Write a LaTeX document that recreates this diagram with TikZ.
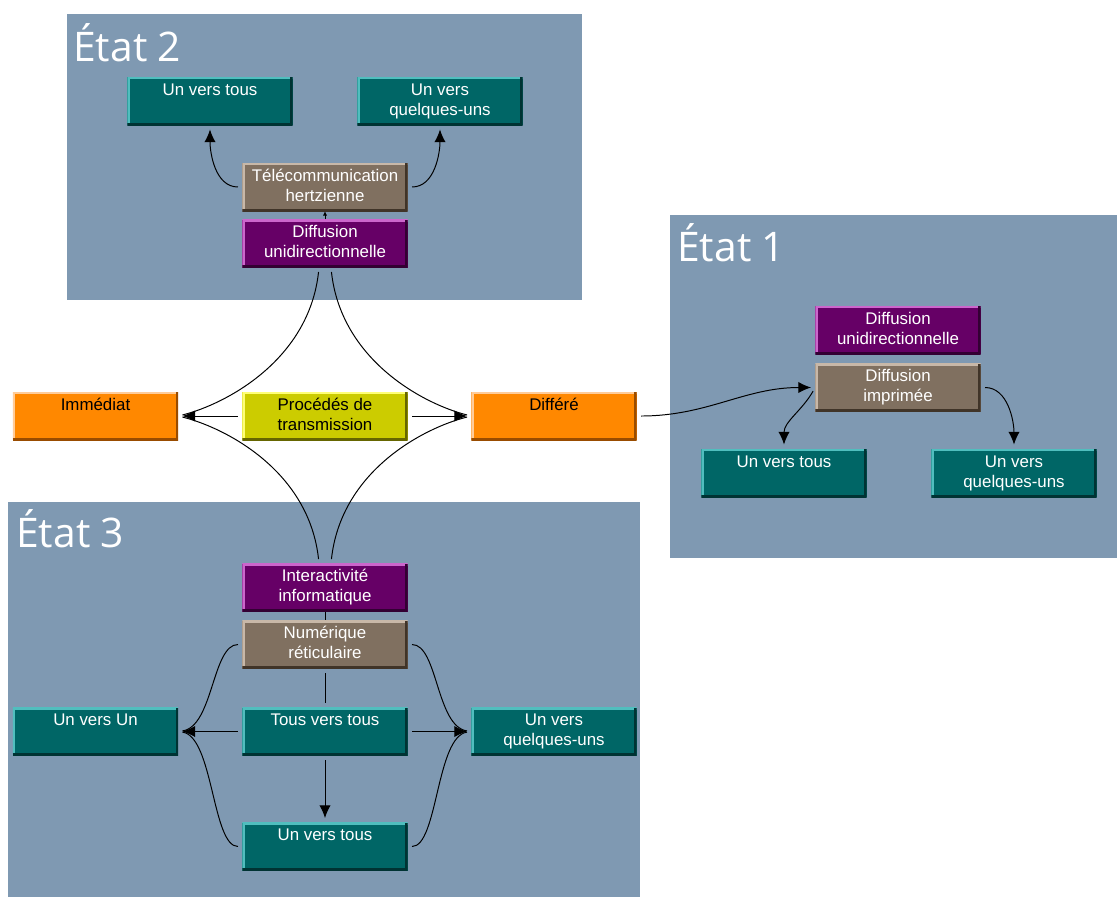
\documentclass[tikz,border=0pt]{standalone}
\usepackage{fontspec}
\setmainfont{Liberation Sans}
\newfontfamily\titlefont{Open Sans}
\usetikzlibrary{arrows.meta}

\definecolor{panelblue}{RGB}{127,153,178}
\definecolor{tealfill}{RGB}{0,102,102}
\definecolor{teallight}{RGB}{80,190,190}
\definecolor{tealdark}{RGB}{0,51,51}
\definecolor{purplefill}{RGB}{102,0,102}
\definecolor{purplelight}{RGB}{204,102,204}
\definecolor{purpledark}{RGB}{51,0,51}
\definecolor{brownfill}{RGB}{128,112,96}
\definecolor{brownlight}{RGB}{200,184,168}
\definecolor{browndark}{RGB}{64,52,40}
\definecolor{orangefill}{RGB}{255,136,0}
\definecolor{orangelight}{RGB}{255,204,153}
\definecolor{orangedark}{RGB}{153,76,0}
\definecolor{yellowfill}{RGB}{204,204,0}
\definecolor{yellowlight}{RGB}{255,255,120}
\definecolor{yellowdark}{RGB}{102,102,0}

\newcommand{\boxtext}[1]{\parbox[c][1.2cm][t]{4.1cm}{\centering\vspace*{3pt}\strut#1}}

\tikzset{
  box/.style n args={3}{rectangle, fill=#1, minimum width=4.125cm, minimum height=1.2cm,
    inner sep=0pt, font=\fontsize{12}{14.2}\selectfont,
    path picture={
      \draw[#2, line width=3pt] (path picture bounding box.south west) |- (path picture bounding box.north east);
      \draw[#3, line width=3pt] (path picture bounding box.south west) -| (path picture bounding box.north east);}},
  tealbox/.style={box={tealfill}{teallight}{tealdark}, text=white},
  purplebox/.style={box={purplefill}{purplelight}{purpledark}, text=white},
  brownbox/.style={box={brownfill}{brownlight}{browndark}, text=white},
  orangebox/.style={box={orangefill}{orangelight}{orangedark}, text=black},
  yellowbox/.style={box={yellowfill}{yellowlight}{yellowdark}, text=black},
  link/.style={line width=.7pt, shorten >=3pt, shorten <=3pt},
  titre/.style={anchor=base west, inner sep=0pt, text=white, font=\titlefont\fontsize{29}{34}\selectfont}
}

\begin{document}
\begin{tikzpicture}[x=0.025cm, y=-0.025cm, >={Latex[length=9pt,width=8pt]}]

  \fill[white] (0,0) rectangle (1117,897);
  \useasboundingbox (0,0) rectangle (1117,897);

  % panels
  \fill[panelblue] (67,14) rectangle (582,300);
  \fill[panelblue] (670,215) rectangle (1117,558);
  \fill[panelblue] (8,502) rectangle (640,897);

  \node[titre] (t2) at (73,61) {État 2};
  \node[titre] (t1) at (677,261) {État 1};
  \node[titre] (t3) at (16,547) {État 3};

  % Etat 2
  \node[tealbox] (uvt2) at (210,101) {\boxtext{Un vers tous}};
  \node[tealbox] (uvq2) at (440,101) {\boxtext{Un vers\\quelques-uns}};
  \node[brownbox] (tel) at (325,187) {\boxtext{Télécommunication\\hertzienne}};
  \node[purplebox] (diff2) at (325,243.5) {\boxtext{Diffusion\\unidirectionnelle}};

  % centre
  \node[orangebox] (imm) at (95.5,416) {\boxtext{Immédiat}};
  \node[yellowbox] (proc) at (325,416) {\boxtext{Procédés de\\transmission}};
  \node[orangebox] (diff) at (554,416) {\boxtext{Différé}};

  % Etat 1
  \node[purplebox] (diff1) at (898,330) {\boxtext{Diffusion\\unidirectionnelle}};
  \node[brownbox] (imp) at (898,387.5) {\boxtext{Diffusion\\imprimée}};
  \node[tealbox] (uvt1) at (784,473) {\boxtext{Un vers tous}};
  \node[tealbox] (uvq1) at (1014,473) {\boxtext{Un vers\\quelques-uns}};

  % Etat 3
  \node[purplebox] (inter) at (325,587.5) {\boxtext{Interactivité\\informatique}};
  \node[brownbox] (num) at (325,644.5) {\boxtext{Numérique\\réticulaire}};
  \node[tealbox] (uvu) at (95.5,731.5) {\boxtext{Un vers Un}};
  \node[tealbox] (tvt) at (325,731.5) {\boxtext{Tous vers tous}};
  \node[tealbox] (uvq3) at (554,731.5) {\boxtext{Un vers\\quelques-uns}};
  \node[tealbox] (uvt3) at (325,846.5) {\boxtext{Un vers tous}};

  % links
  \draw[link,->] (tel.west) to[out=180,in=-90] (uvt2.south);
  \draw[link,->] (tel.east) to[out=0,in=-90] (uvq2.south);
  \draw[line width=.7pt,->,>={Latex[length=3pt,width=3pt]}] (diff2) -- (tel);

  \draw[link,->] (proc.west) -- (imm.east);
  \draw[link,->] (proc.east) -- (diff.west);
  \draw[link] ([xshift=-.15cm]diff2.south) .. controls +(-10,92) and +(48,-12) .. (imm.east);
  \draw[link] ([xshift=.15cm]diff2.south) .. controls +(10,92) and +(-48,-12) .. (diff.west);
  \draw[link] ([xshift=-.15cm]inter.north) .. controls +(-10,-92) and +(48,12) .. (imm.east);
  \draw[link] ([xshift=.15cm]inter.north) .. controls +(10,-92) and +(-48,12) .. (diff.west);

  \draw[link,->] (diff.east) to[out=0,in=180] (imp.west);
  \draw[link,->] (imp.west) to[out=-120,in=90] (uvt1.north);
  \draw[link,->] (imp.east) to[out=0,in=90] (uvq1.north);

  \draw[line width=.7pt] (inter) -- (num);
  \draw[link] (num) -- (tvt);
  \draw[link,->] (tvt) -- (uvu);
  \draw[link,->] (tvt) -- (uvq3);
  \draw[link,->] (tvt) -- (uvt3);
  \draw[link] (num.west) .. controls +(-30,0) and +(35,-5) .. (uvu.east);
  \draw[link] (uvt3.west) .. controls +(-30,0) and +(35,5) .. (uvu.east);
  \draw[link] (num.east) .. controls +(30,0) and +(-35,-5) .. (uvq3.west);
  \draw[link] (uvt3.east) .. controls +(30,0) and +(-35,5) .. (uvq3.west);

\end{tikzpicture}
\end{document}
